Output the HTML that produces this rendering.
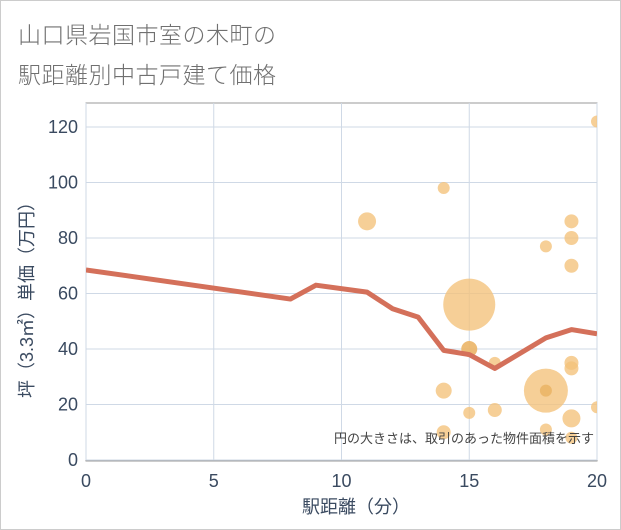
<!DOCTYPE html>
<html><head><meta charset="utf-8"><style>
body{margin:0;background:#fff;font-family:"Liberation Sans","Noto Sans CJK JP",sans-serif}
#wrap{position:relative;width:619px;height:528px;border:1px solid #ccc;background:#fff}
.t{position:absolute;left:17px;font-size:23px;color:#707070;letter-spacing:0.5px;font-weight:300}
</style></head><body>
<div id="wrap">
<div class="t" style="top:15px">山口県岩国市室の木町の</div>
<div class="t" style="top:55px">駅距離別中古戸建て価格</div>
<svg id="c" width="621" height="530" style="position:absolute;left:-1px;top:-1px"></svg>
</div>
<script>
const xTicks=[0,5,10,15,20];
const yTicks=[0,20,40,60,80,100,120];
const lineX=[0,8,9,11,12,13,14,15,16,18,19,20];
const lineY=[68.5,58,63,60.5,54.5,51.5,39.5,38,33,44,47,45.5];
const bubX=[20,14,11,19,19,18,19,15,15,16,19,19,14,18,18,20,15,16,19,14,18,19];
const bubY=[122,98,86,86,80,77,70,56,40,35,35,33,25,25,25,19,17,18,15,10,11,8];
const bubR=[6,6,9,7,7,6,7,26,8,6,7,7,8,22,6,6,6,7,9,7,6,6];
const bubDark=[0,0,0,0,0,0,0,0,1,0,0,0,0,0,1,0,0,0,0,0,0,0];
const L=86,R=597,T=103,B=460;
const sx=v=>L+v*(R-L)/20, sy=v=>B-v*(B-127)/120;
const svg=document.getElementById('c'),NS='http://www.w3.org/2000/svg';
function mk(t,a,p){const e=document.createElementNS(NS,t);for(const k in a)e.setAttribute(k,a[k]);(p||svg).appendChild(e);return e;}
const g=mk('g',{});


const bg=mk('rect',{x:L,y:T,width:R-L,height:B-T+1,fill:'#fff',stroke:'#999'},g);


yTicks.forEach(v=>{const y=sy(v);
const ln=mk('line',{x1:L,x2:R,y1:y,y2:y,stroke:'#cfd9e6','stroke-width':1},g);


const tx=mk('text',{x:L-8,y:y+6,'text-anchor':'end','font-size':18,fill:'#3a4a60'},g);tx.textContent=v;

});
xTicks.forEach(v=>{const x=sx(v);
const ln=mk('line',{x1:x,x2:x,y1:T,y2:B,stroke:'#cfd9e6','stroke-width':1},g);


const tx=mk('text',{x:x,y:487,'text-anchor':'middle','font-size':18,fill:'#3a4a60'},g);tx.textContent=v;

});
const clip=mk('clipPath',{id:'cp'});mk('rect',{x:L,y:T,width:R-L,height:B-T},clip);
const pg=mk('g',{'clip-path':'url(#cp)'});
bubX.forEach((v,i)=>{const c=mk('circle',{cx:sx(v),cy:sy(bubY[i]),r:bubR[i],fill:bubDark[i]?'#ebb567':'#f3c27a','fill-opacity':bubDark[i]?0.9:0.78},pg);

});
const p=mk('polyline',{points:lineX.map((v,i)=>sx(v)+','+sy(lineY[i])).join(' '),fill:'none',stroke:'#d4705a','stroke-width':5,'stroke-linejoin':'round'},pg);


const note=mk('text',{x:594,y:443,'text-anchor':'end','font-size':13,fill:'#444'});note.textContent='円の大きさは、取引のあった物件面積を示す';


const xt=mk('text',{x:356,y:513,'text-anchor':'middle','font-size':18,fill:'#3a4a60'});xt.textContent='駅距離（分）';


const yt=mk('text',{x:0,y:0,'text-anchor':'middle','font-size':18,fill:'#3a4a60',transform:'translate(33,'+((T+B)/2+14)+') rotate(-90)'});yt.textContent='坪（3.3㎡）単価（万円）';


</script>
</body></html>
